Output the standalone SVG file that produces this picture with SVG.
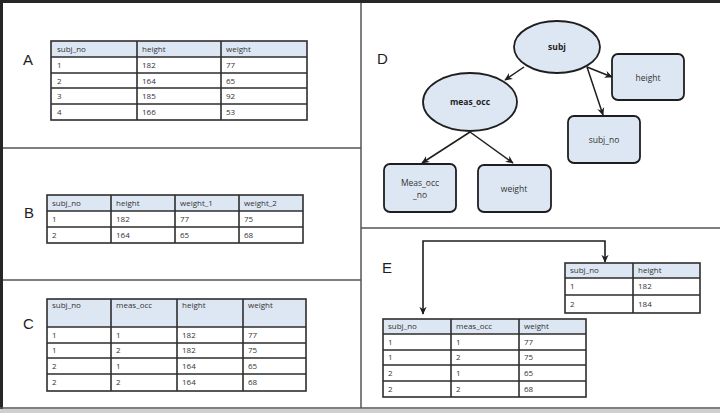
<svg xmlns="http://www.w3.org/2000/svg" width="720" height="413" viewBox="0 0 720 413">
<defs>
<style>
.bg{fill:#ffffff}
.div{stroke:#555;stroke-width:1.5}
.hdr{fill:#dde7f3}
.grid{fill:none;stroke:#2e2e2e;stroke-width:1.6}
.t{font-family:"Open Sans","Liberation Sans",sans-serif;font-size:8px;fill:#333}
.lbl{font-family:"Liberation Sans","Open Sans",sans-serif;font-size:15px;fill:#1e1e1e}
.node{fill:#dde7f3;stroke:#1e1e1e;stroke-width:1.8}
.nt{font-family:"Open Sans","Liberation Sans",sans-serif;font-size:8.5px;fill:#333;text-anchor:middle}
.nb{font-family:"Open Sans","Liberation Sans",sans-serif;font-size:8.5px;fill:#1e1e1e;font-weight:bold;text-anchor:middle}
.edge{fill:none;stroke:#1e1e1e;stroke-width:1.5;marker-end:url(#ah)}
</style>
<marker id="ah" viewBox="0 0 10 10" refX="9" refY="5" markerWidth="8" markerHeight="8" orient="auto-start-reverse" markerUnits="userSpaceOnUse">
<path d="M0,0.5 L10,5 L0,9.5 L3,5 z" fill="#1e1e1e"/>
</marker>
</defs>
<rect class="bg" x="0" y="0" width="720" height="413"/>
<rect x="0" y="409" width="720" height="4" fill="#cfcfcf"/>
<rect x="0" y="0" width="720" height="3" fill="#262626"/>
<rect x="0" y="0" width="3" height="409" fill="#262626"/>
<line class="div" x1="0" y1="408" x2="720" y2="408"/>
<line class="div" x1="361" y1="3" x2="361" y2="408"/>
<line class="div" x1="3" y1="148" x2="361" y2="148"/>
<line class="div" x1="3" y1="280" x2="361" y2="280"/>
<line class="div" x1="361" y1="228" x2="720" y2="228"/>

<g id="panelA">
<text class="lbl" x="23" y="65">A</text>
<rect class="hdr" x="51" y="41" width="256" height="16"/>
<rect class="grid" x="51" y="41" width="256" height="79"/>
<path class="grid" d="M51,57H307M51,73H307M51,88H307M51,104H307M137,41V120M221,41V120"/>
<text class="t" x="57" y="52">subj_no</text><text class="t" x="142" y="52">height</text><text class="t" x="226" y="52">weight</text>
<text class="t" x="57" y="68">1</text><text class="t" x="142" y="68">182</text><text class="t" x="226" y="68">77</text>
<text class="t" x="57" y="84">2</text><text class="t" x="142" y="84">164</text><text class="t" x="226" y="84">65</text>
<text class="t" x="57" y="99">3</text><text class="t" x="142" y="99">185</text><text class="t" x="226" y="99">92</text>
<text class="t" x="57" y="115">4</text><text class="t" x="142" y="115">166</text><text class="t" x="226" y="115">53</text>
</g>

<g id="panelB">
<text class="lbl" x="24" y="218">B</text>
<rect class="hdr" x="47" y="195" width="256" height="16"/>
<rect class="grid" x="47" y="195" width="256" height="48"/>
<path class="grid" d="M47,211H303M47,227H303M111,195V243M175,195V243M239,195V243"/>
<text class="t" x="52" y="206">subj_no</text><text class="t" x="116" y="206">height</text><text class="t" x="180" y="206">weight_1</text><text class="t" x="244" y="206">weight_2</text>
<text class="t" x="52" y="222">1</text><text class="t" x="116" y="222">182</text><text class="t" x="180" y="222">77</text><text class="t" x="244" y="222">75</text>
<text class="t" x="52" y="238">2</text><text class="t" x="116" y="238">164</text><text class="t" x="180" y="238">65</text><text class="t" x="244" y="238">68</text>
</g>

<g id="panelC">
<text class="lbl" x="23" y="329">C</text>
<rect class="hdr" x="47" y="299" width="259" height="28"/>
<rect class="grid" x="47" y="299" width="259" height="92"/>
<path class="grid" d="M47,327H306M47,343H306M47,358H306M47,374H306M111,299V391M177,299V391M243,299V391"/>
<text class="t" x="52" y="308">subj_no</text><text class="t" x="116" y="308">meas_occ</text><text class="t" x="182" y="308">height</text><text class="t" x="248" y="308">weight</text>
<text class="t" x="52" y="338">1</text><text class="t" x="116" y="338">1</text><text class="t" x="182" y="338">182</text><text class="t" x="248" y="338">77</text>
<text class="t" x="52" y="353">1</text><text class="t" x="116" y="353">2</text><text class="t" x="182" y="353">182</text><text class="t" x="248" y="353">75</text>
<text class="t" x="52" y="369">2</text><text class="t" x="116" y="369">1</text><text class="t" x="182" y="369">164</text><text class="t" x="248" y="369">65</text>
<text class="t" x="52" y="385">2</text><text class="t" x="116" y="385">2</text><text class="t" x="182" y="385">164</text><text class="t" x="248" y="385">68</text>
</g>

<g id="panelD">
<text class="lbl" x="377" y="64">D</text>
</g>
<g id="connectors">
<line class="edge" x1="524" y1="67" x2="505" y2="80"/>
<line class="edge" x1="587" y1="67" x2="612" y2="77"/>
<line class="edge" x1="587" y1="67" x2="603" y2="115"/>
<line class="edge" x1="470" y1="132" x2="422" y2="163"/>
<line class="edge" x1="470" y1="132" x2="513" y2="163"/>
<path d="M423,314V241H605V262" fill="none" stroke="#1e1e1e" stroke-width="1.6" marker-start="url(#ah)" marker-end="url(#ah)"/>
</g>
<g id="subj"><ellipse class="node" cx="557" cy="47" rx="43" ry="26"/><text class="nb" x="557" y="50">subj</text></g>
<g id="meas_occ"><ellipse class="node" cx="470" cy="102" rx="47" ry="29"/><text class="nb" x="470" y="105">meas_occ</text></g>
<g id="height"><rect class="node" x="612" y="54" width="72" height="46" rx="6"/><text class="nt" x="648" y="81">height</text></g>
<g id="subj_no"><rect class="node" x="568" y="116" width="72" height="47" rx="6"/><text class="nt" x="604" y="143">subj_no</text></g>
<g id="meas_occ_no"><rect class="node" x="384" y="164" width="72" height="48" rx="6"/><text class="nt" x="420" y="186">Meas_occ</text><text class="nt" x="420" y="198">_no</text></g>
<g id="weight"><rect class="node" x="478" y="165" width="73" height="47" rx="6"/><text class="nt" x="514" y="192">weight</text></g>

<g id="panelE">
<text class="lbl" x="382" y="273">E</text>
<rect class="hdr" x="565" y="263" width="135" height="15"/>
<rect class="grid" x="565" y="263" width="135" height="50"/>
<path class="grid" d="M565,278H700M565,295H700M633,263V313"/>
<text class="t" x="570" y="273">subj_no</text><text class="t" x="638" y="273">height</text>
<text class="t" x="570" y="289">1</text><text class="t" x="638" y="289">182</text>
<text class="t" x="570" y="307">2</text><text class="t" x="638" y="307">184</text>
<rect class="hdr" x="383" y="319" width="203" height="15"/>
<rect class="grid" x="383" y="319" width="203" height="78"/>
<path class="grid" d="M383,334H586M383,350H586M383,365H586M383,381H586M451,319V397M519,319V397"/>
<text class="t" x="388" y="329">subj_no</text><text class="t" x="456" y="329">meas_occ</text><text class="t" x="524" y="329">weight</text>
<text class="t" x="388" y="345">1</text><text class="t" x="456" y="345">1</text><text class="t" x="524" y="345">77</text>
<text class="t" x="388" y="360">1</text><text class="t" x="456" y="360">2</text><text class="t" x="524" y="360">75</text>
<text class="t" x="388" y="376">2</text><text class="t" x="456" y="376">1</text><text class="t" x="524" y="376">65</text>
<text class="t" x="388" y="392">2</text><text class="t" x="456" y="392">2</text><text class="t" x="524" y="392">68</text>
</g>
</svg>
